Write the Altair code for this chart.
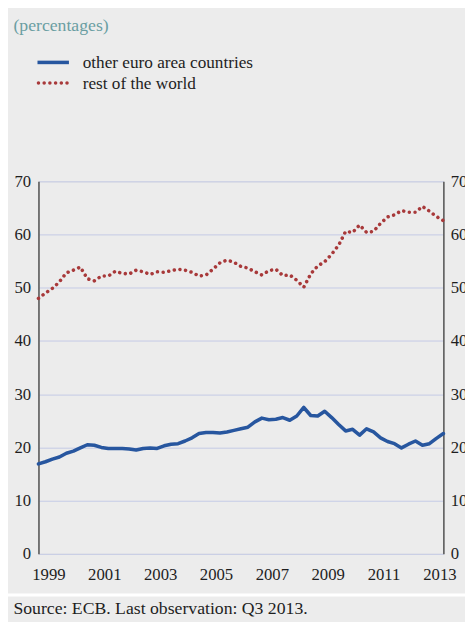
import altair as alt
import pandas as pd

# ---------------- data ----------------
periods = [f"{y}Q{q}" for y in range(1999, 2014) for q in range(1, 5)][:59]

series_names = ["other euro area countries", "rest of the world"]

euro_area = [16.9, 17.3, 17.8, 18.2, 18.9, 19.3, 19.9, 20.5, 20.4, 20.0,
             19.8, 19.8, 19.8, 19.7, 19.5, 19.8, 19.9, 19.8, 20.3, 20.6,
             20.7, 21.2, 21.8, 22.6, 22.8, 22.8, 22.7, 22.9, 23.2, 23.5,
             23.8, 24.8, 25.5, 25.2, 25.3, 25.6, 25.1, 25.9, 27.5, 26.0,
             25.9, 26.8, 25.6, 24.3, 23.1, 23.4, 22.3, 23.5, 22.9, 21.8,
             21.1, 20.7, 19.9, 20.6, 21.2, 20.4, 20.7, 21.7, 22.6]

rest_world = [48.0, 49.0, 49.9, 51.1, 52.8, 53.3, 53.9, 51.7, 51.3, 52.2,
              52.2, 53.1, 52.7, 52.6, 53.3, 53.0, 52.5, 53.0, 52.9, 53.2,
              53.5, 53.3, 52.9, 52.2, 52.4, 53.5, 54.7, 55.2, 54.8, 54.0,
              53.7, 53.0, 52.4, 53.2, 53.5, 52.3, 52.4, 51.4, 50.1, 52.6,
              54.1, 54.9, 56.3, 58.0, 60.6, 60.4, 61.8, 60.4, 60.6, 62.1,
              63.3, 63.7, 64.5, 64.2, 64.2, 65.3, 64.4, 63.4, 62.6]

year_labels = [1999, 2001, 2003, 2005, 2007, 2009, 2011, 2013]
y_ticks = [0, 10, 20, 30, 40, 50, 60, 70]
title_text = ["(percentages)"]
source_text = ["Source: ECB. Last observation: Q3 2013."]

# ---------------- styling ----------------
FONT = "Liberation Serif"
BLUE = "#27569f"
RED = "#a8393a"
GRID = "#c4cae6"
AXIS = "#5a5a5a"
TXT = "#1e1e1e"
TEAL = "#6a9ea2"
BG = "#ececec"

def to_t(p):
    y, q = p.split("Q")
    return int(y) + (int(q) - 1) / 4

df_e = pd.DataFrame({"period": periods, "t": [to_t(p) for p in periods], "v": euro_area})
df_w = pd.DataFrame({"period": periods, "t": [to_t(p) for p in periods], "v": rest_world})

x_scale = alt.Scale(domain=[1999, 2013.5], nice=False, zero=False)
y_scale = alt.Scale(domain=[0, 70], nice=False, zero=True)
grid_ticks = [1999] + [yr - 0.125 for yr in range(2000, 2014)]

blue = alt.Chart(df_e).mark_line(
    color=BLUE, strokeWidth=3.6, strokeJoin="round", strokeCap="round"
).encode(
    x=alt.X("t:Q", scale=x_scale, axis=alt.Axis(
        values=grid_ticks, labels=False, ticks=True, tickSize=6, tickColor=AXIS,
        tickWidth=1.3, domain=True, domainColor=AXIS, domainWidth=1.6,
        grid=True, gridColor=GRID, gridWidth=1, title=None)),
    y=alt.Y("v:Q", scale=y_scale, axis=alt.Axis(
        orient="left", values=y_ticks, ticks=False, grid=True, gridColor=GRID,
        gridWidth=1, domain=True, domainColor=AXIS, domainWidth=1.6,
        labelPadding=8, labelFontSize=17, labelFont=FONT, labelColor=TXT,
        title=None)),
)

red = alt.Chart(df_w).mark_line(
    color=RED, strokeWidth=3.6, strokeDash=[0.01, 5.8], strokeCap="round",
    strokeJoin="round"
).encode(
    x=alt.X("t:Q", scale=x_scale, axis=None),
    y=alt.Y("v:Q", scale=y_scale, axis=alt.Axis(
        orient="right", values=y_ticks, ticks=False, grid=False, domain=True,
        domainColor=AXIS, domainWidth=1.6, labelPadding=7, labelFontSize=17,
        labelFont=FONT, labelColor=TXT, title=None)),
)

lab_df = pd.DataFrame({"year": [str(y) for y in year_labels],
                       "lt": [y + 0.375 for y in year_labels]})
year_text = alt.Chart(lab_df).mark_text(
    font=FONT, fontSize=17, color=TXT, baseline="alphabetic", align="center"
).encode(
    x=alt.X("lt:Q", scale=x_scale, axis=None),
    y=alt.value(406),
    text="year:N",
)

one = pd.DataFrame({"k": [0]})
leg_blue = alt.Chart(one).mark_rule(color=BLUE, strokeWidth=3.6).encode(
    x=alt.value(-1), x2=alt.value(31), y=alt.value(-121))
leg_red = alt.Chart(one).mark_rule(
    color=RED, strokeWidth=3.6, strokeDash=[0.01, 5.8], strokeCap="round"
).encode(x=alt.value(0), x2=alt.value(32), y=alt.value(-100))

leg_df = pd.DataFrame({"name": series_names, "yy": [-115.5, -94]})
leg_text = alt.Chart(leg_df).mark_text(
    font=FONT, fontSize=17.5, color=TXT, align="left", baseline="alphabetic"
).encode(x=alt.value(45), y=alt.Y("yy:Q", scale=None), text="name:N")

title = alt.Chart(pd.DataFrame({"s": title_text})).mark_text(
    font=FONT, fontSize=18, color=TEAL, align="left", baseline="alphabetic"
).encode(x=alt.value(-25.5), y=alt.value(-152.5), text="s:N")

sep = alt.Chart(one).mark_rule(color="white", strokeWidth=3).encode(
    x=alt.value(-40), x2=alt.value(440), y=alt.value(421))

source = alt.Chart(pd.DataFrame({"s": source_text})).mark_text(
    font=FONT, fontSize=18, color=TXT, align="left", baseline="alphabetic"
).encode(x=alt.value(-25.5), y=alt.value(440.5), text="s:N")

chart = alt.layer(
    blue, red, year_text, leg_blue, leg_red, leg_text, title, sep, source
).resolve_scale(y="independent").resolve_axis(y="independent").properties(
    width=412, height=379,
    padding={"left": 31, "top": 171, "right": 22, "bottom": 64},
    autosize=alt.AutoSizeParams(type="none"),
    background=BG,
).configure_view(stroke=None).configure(font=FONT)

chart.save("out.html", embed_options={"renderer": "svg", "actions": False})
